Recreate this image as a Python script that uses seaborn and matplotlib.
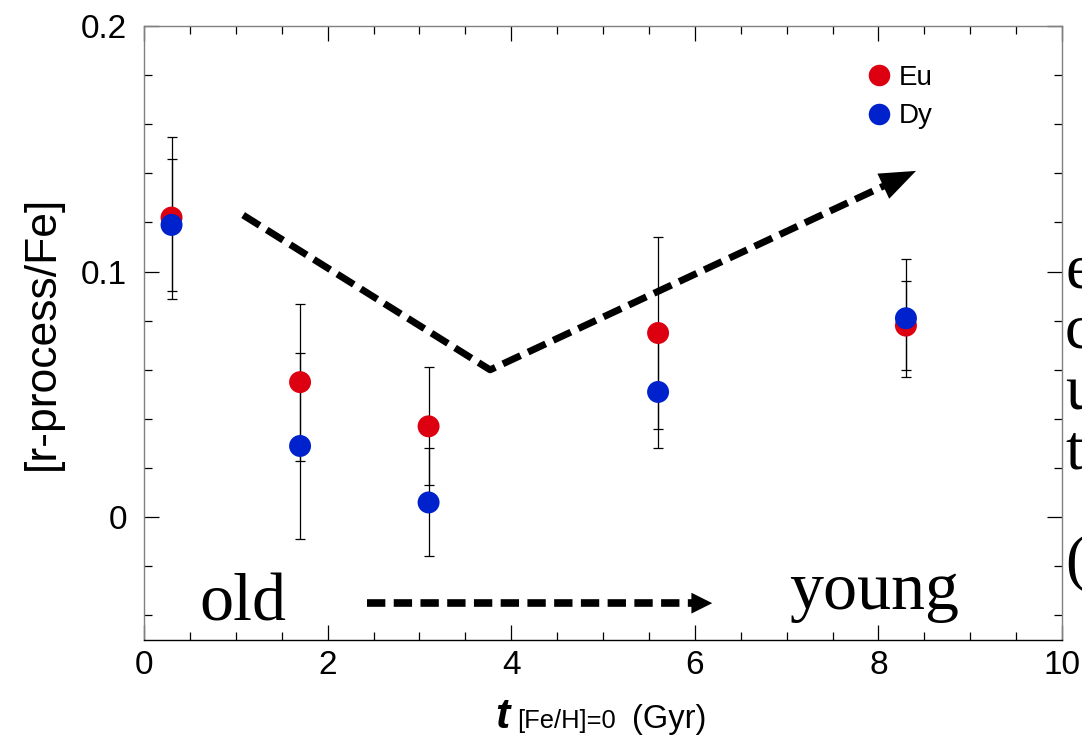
import numpy as np
import pandas as pd
import matplotlib
matplotlib.use("Agg")
import matplotlib.pyplot as plt
from matplotlib.lines import Line2D
from matplotlib.ticker import MultipleLocator
import seaborn as sns

# Ages at which each sample reaches solar metallicity (Gyr)
t_gyr = [0.3, 1.7, 3.1, 5.6, 8.3]

# [r-process/Fe] ratios and their uncertainties
eu = [0.122, 0.055, 0.037, 0.075, 0.078]
eu_err = [0.033, 0.032, 0.024, 0.039, 0.018]
dy = [0.119, 0.029, 0.006, 0.051, 0.081]
dy_err = [0.027, 0.038, 0.022, 0.023, 0.024]

elements = ["Eu", "Dy"]
colors = {"Eu": "#DD0011", "Dy": "#0022CC"}

# Schematic trend: decline, minimum, then rise (arrow)
trend_t = [1.08, 3.77, 8.41]
trend_y = [0.123, 0.060, 0.141]

# Age-direction arrow along the bottom
age_arrow_t = [2.43, 6.19]
age_arrow_y = -0.035

df = pd.DataFrame({
    "t": t_gyr * 2,
    "ratio": eu + dy,
    "err": eu_err + dy_err,
    "element": ["Eu"] * len(eu) + ["Dy"] * len(dy),
})

sns.set_style("ticks")
plt.rcParams["font.family"] = ["Liberation Sans", "DejaVu Sans"]
plt.rcParams["text.color"] = "black"
plt.rcParams["axes.labelcolor"] = "black"
plt.rcParams["xtick.color"] = "black"
plt.rcParams["ytick.color"] = "black"

fig = plt.figure(figsize=(10.82, 7.36), dpi=100)
ax = fig.add_axes([144 / 1082, 1 - 640 / 736, 918 / 1082, 614 / 736])

# error bars first, markers on top
ax.errorbar(df["t"], df["ratio"], yerr=df["err"], fmt="none", ecolor="black",
            elinewidth=0.9, capsize=3.8, capthick=0.9, zorder=2)
sns.scatterplot(data=df, x="t", y="ratio", hue="element", palette=colors,
                hue_order=elements, s=250, linewidth=0, legend=False,
                ax=ax, zorder=3)

# dashed trend with arrow head
frac = 0.075
tip_t, tip_y = trend_t[-1], trend_y[-1]
base_t = tip_t - frac * (tip_t - trend_t[1])
base_y = tip_y - frac * (tip_y - trend_y[1])
ax.plot(trend_t[:2] + [base_t], trend_y[:2] + [base_y], color="black",
        lw=5, linestyle=(0, (2.8, 1.2)), zorder=4)
ax.annotate("", xy=(tip_t, tip_y), xytext=(base_t, base_y),
            arrowprops=dict(arrowstyle="-|>,head_length=1.3,head_width=0.5",
                            mutation_scale=20, color="black", lw=0,
                            shrinkA=0, shrinkB=0), zorder=4)

# bottom age arrow
head_len = 0.22
ax.plot([age_arrow_t[0], age_arrow_t[1] - head_len], [age_arrow_y] * 2,
        color="black", lw=5.5, linestyle=(0, (2.4, 1.1)), zorder=4)
ax.annotate("", xy=(age_arrow_t[1], age_arrow_y),
            xytext=(age_arrow_t[1] - head_len, age_arrow_y),
            arrowprops=dict(arrowstyle="-|>,head_length=1.0,head_width=0.5",
                            mutation_scale=15, color="black", lw=0,
                            shrinkA=0, shrinkB=0), zorder=4)

ax.text(1.08, -0.042, "old", fontsize=49, family="Liberation Serif",
        ha="center", va="baseline")
ax.text(7.95, -0.0375, "young", fontsize=49, family="Liberation Serif",
        ha="center", va="baseline")

ax.set_xlim(0, 10)
ax.set_ylim(-0.05, 0.2)
ax.xaxis.set_major_locator(MultipleLocator(2))
ax.xaxis.set_minor_locator(MultipleLocator(0.5))
ax.set_yticks([0, 0.1, 0.2])
ax.set_yticklabels(["0", "0.1", "0.2"])
ax.yaxis.set_minor_locator(MultipleLocator(0.02))

ax.tick_params(which="both", direction="in", top=True, right=True,
               color="black", labelcolor="black", width=0.9, labelsize=24)
ax.tick_params(which="major", length=11)
ax.tick_params(which="minor", length=5.5)
ax.tick_params(axis="x", pad=7)
ax.tick_params(axis="y", pad=12)

for side in ["left", "top", "right"]:
    ax.spines[side].set_color("#808080")
    ax.spines[side].set_linewidth(1.0)
ax.spines["bottom"].set_color("black")
ax.spines["bottom"].set_linewidth(1.0)

ax.set_xlabel("")
ax.set_ylabel("[r-process/Fe]", fontsize=32, labelpad=13, color="black")

# x-axis label assembled from pieces
fig.text(495 / 1082, 1 - 728 / 736, "t", fontsize=31, fontweight="bold",
         fontstyle="italic", va="baseline", ha="left")
fig.text(517 / 1082, 1 - 728 / 736, "[Fe/H]=0", fontsize=18.4,
         va="baseline", ha="left")
fig.text(632 / 1082, 1 - 728 / 736, "(Gyr)", fontsize=23.5,
         va="baseline", ha="left")

# legend
handles = [Line2D([], [], marker="o", linestyle="none", markersize=15.5,
                  markerfacecolor=colors[e], markeredgewidth=0) for e in elements]
ax.legend(handles, elements, loc="upper left", bbox_to_anchor=(0.771, 0.955),
          frameon=False, fontsize=20, handletextpad=0.15, labelspacing=0.45,
          handlelength=1.15, borderaxespad=0)

# neighbouring serif text running off the right edge
for ch, base in zip(["e", "c", "u", "t", "("], [287, 348, 410, 468, 578]):
    fig.text(1065 / 1082, 1 - base / 736, ch, fontsize=46,
             family="Liberation Serif", va="baseline", ha="left")

fig.savefig("out.png", dpi=100)
